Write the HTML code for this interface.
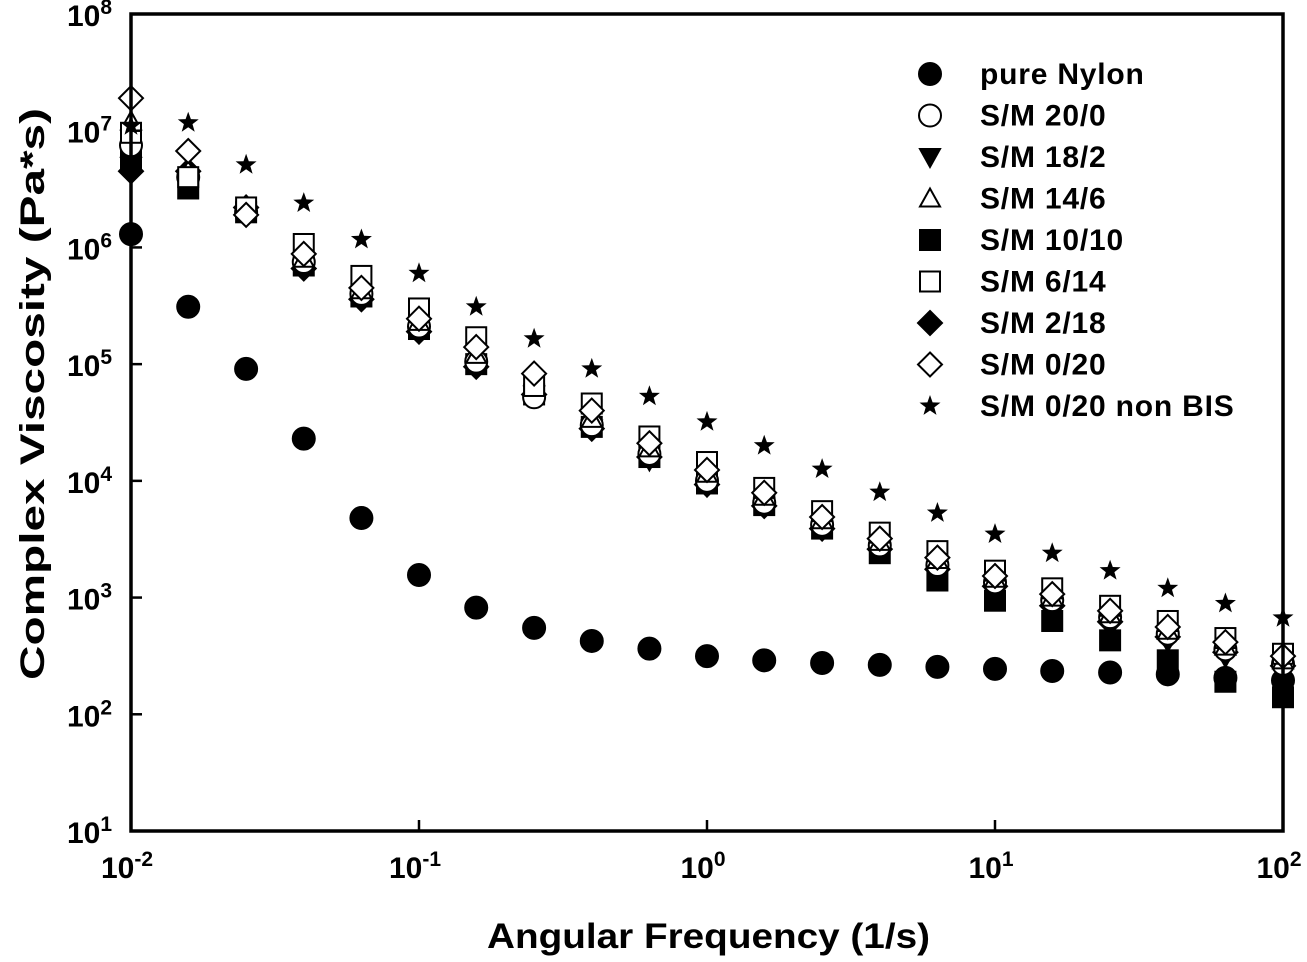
<!DOCTYPE html>
<html><head><meta charset="utf-8"><style>
html,body{margin:0;padding:0;background:#fff;}
svg text{font-family:"Liberation Sans",Arial,sans-serif;font-weight:bold;fill:#000;}
</style></head><body>
<svg id="chart" width="1307" height="957" viewBox="0 0 1307 957" xmlns="http://www.w3.org/2000/svg">
<g id="plot"></g>
<g id="axes"></g>
<g id="legend"></g>
<text x="487" y="948" font-size="35" textLength="443" lengthAdjust="spacingAndGlyphs">Angular Frequency (1/s)</text>
<text transform="translate(44,680) rotate(-90)" font-size="34" textLength="572" lengthAdjust="spacingAndGlyphs">Complex Viscosity (Pa*s)</text>
</svg>
<script>
const freqs=[0.01,0.0158,0.0251,0.0398,0.0631,0.1,0.158,0.251,0.398,0.631,1,1.58,2.51,3.98,6.31,10,15.8,25.1,39.8,63.1,100];
const nylon=[1.3e6,3.1e5,9.1e4,2.3e4,4.8e3,1.56e3,820,550,425,365,315,290,275,265,255,245,235,228,220,205,195];
const sm20_0=[7.5e6,4e6,2e6,7.5e5,4e5,2.1e5,1.05e5,5.2e4,3e4,1.7e4,1e4,6.5e3,4.2e3,2.8e3,1.9e3,1.35e3,950,680,490,360,270];
const sm18_2=[5e6,3.6e6,1.9e6,6.6e5,3.6e5,1.85e5,9.5e4,5.5e4,2.8e4,1.5e4,9e3,6e3,3.8e3,2.5e3,1.7e3,1.2e3,820,580,420,310,230];
const sm14_6=[1.2e7,4.5e6,2.2e6,8e5,4.3e5,2.3e5,1.2e5,6.5e4,3.4e4,1.9e4,1.15e4,7.3e3,4.6e3,3e3,2.1e3,1.45e3,1e3,720,520,380,290];
const sm10_10=[5.8e6,3.2e6,2e6,7e5,3.8e5,2e5,1e5,5.5e4,2.9e4,1.6e4,9.5e3,6.2e3,3.9e3,2.4e3,1.4e3,940,630,430,290,190,140];
const sm6_14=[9.6e6,4e6,2.2e6,1.07e6,5.7e5,3e5,1.7e5,6.5e4,4.6e4,2.4e4,1.45e4,8.7e3,5.5e3,3.6e3,2.5e3,1.7e3,1.2e3,850,630,450,330];
const sm2_18=[4.5e6,4.5e6,2.2e6,6.6e5,3.6e5,1.9e5,9.5e4,5.5e4,2.8e4,1.6e4,9.3e3,6.1e3,3.9e3,2.6e3,1.75e3,1.25e3,850,620,460,340,260];
const sm0_20=[1.9e7,6.7e6,1.9e6,8.8e5,4.5e5,2.45e5,1.4e5,8.3e4,4e4,2.1e4,1.24e4,7.9e3,4.9e3,3.2e3,2.2e3,1.53e3,1.07e3,770,560,415,315];
const sm0_20nb=[1.1e7,1.17e7,5.1e6,2.4e6,1.17e6,6e5,3.1e5,1.65e5,9.1e4,5.3e4,3.2e4,2e4,1.26e4,8e3,5.3e3,3.5e3,2.4e3,1.7e3,1.2e3,890,670];
const xTickExp=[-2,-1,0,1,2];
const yTickExp=[1,2,3,4,5,6,7,8];
const seriesNames=["pure Nylon","S/M 20/0","S/M 18/2","S/M 14/6","S/M 10/10","S/M 6/14","S/M 2/18","S/M 0/20","S/M 0/20 non BIS"];

const X0=131,X1=1283,Y0=831,Y1=14;
function xs(v){return X0+(Math.log10(v)+2)/4*(X1-X0);}
function ys(v){return Y0-(Math.log10(v)-1)/7*(Y0-Y1);}
const NS="http://www.w3.org/2000/svg";
function mk(tag,attrs,parent){const e=document.createElementNS(NS,tag);for(const k in attrs)e.setAttribute(k,attrs[k]);parent.appendChild(e);return e;}

function marker(type,x,y,parent){
  const r=10;let e;
  if(type==="fcircle"||type==="ocircle"){e=mk("circle",{cx:x,cy:y,r:r+1,fill:type==="fcircle"?"#000":"#fff",stroke:"#000","stroke-width":2},parent);}
  else if(type==="fsquare"||type==="osquare"){e=mk("rect",{x:x-r,y:y-r,width:2*r,height:2*r,fill:type==="fsquare"?"#000":"#fff",stroke:"#000","stroke-width":2},parent);}
  else if(type==="tdown"){e=mk("polygon",{points:`${x-r},${y-r*0.8} ${x+r},${y-r*0.8} ${x},${y+r*1.0}`,fill:"#000",stroke:"#000","stroke-width":2},parent);}
  else if(type==="tup"){e=mk("polygon",{points:`${x-r},${y+r*0.8} ${x+r},${y+r*0.8} ${x},${y-r*1.0}`,fill:"#fff",stroke:"#000","stroke-width":2},parent);}
  else if(type==="fdiamond"||type==="odiamond"){const d=r*1.2;e=mk("polygon",{points:`${x},${y-d} ${x+d},${y} ${x},${y+d} ${x-d},${y}`,fill:type==="fdiamond"?"#000":"#fff",stroke:"#000","stroke-width":2},parent);}
  else if(type==="star"){let p=[];for(let i=0;i<10;i++){const a=-Math.PI/2+i*Math.PI/5;const rr=i%2?4.5:11;p.push((x+rr*Math.cos(a)).toFixed(1)+","+(y+rr*Math.sin(a)).toFixed(1));}e=mk("polygon",{points:p.join(" "),fill:"#000"},parent);}
  return e;
}

const plot=document.getElementById("plot");
const allSeries=[[nylon,"fcircle"],[sm20_0,"ocircle"],[sm18_2,"tdown"],[sm14_6,"tup"],[sm10_10,"fsquare"],[sm6_14,"osquare"],[sm2_18,"fdiamond"],[sm0_20,"odiamond"],[sm0_20nb,"star"]];
const drawOrder=[0,4,2,6,1,3,5,7,8];
drawOrder.forEach(si=>{
  const [vals,type]=allSeries[si];
  const g=mk("g",{},plot);
  
  
  vals.forEach((v,i)=>{
    const m=marker(type,xs(freqs[i]),ys(v),g);
    
    
  });
});

const axes=document.getElementById("axes");
const frame=mk("rect",{x:X0,y:Y1,width:X1-X0,height:Y0-Y1,fill:"none",stroke:"#000","stroke-width":3.5},axes);


xTickExp.forEach(e=>{
  const x=xs(Math.pow(10,e));
  const t=mk("line",{x1:x,y1:Y0,x2:x,y2:Y0-11,stroke:"#000","stroke-width":2.5},axes);
  
  
  const tx=mk("text",{x:x-4,y:Y0+47,"text-anchor":"middle","font-size":30},axes);
  
  
  tx.innerHTML='10<tspan dy="-12" font-size="21">'+e+'</tspan>';
});
yTickExp.forEach(e=>{
  const y=ys(Math.pow(10,e));
  const t=mk("line",{x1:X0,y1:y,x2:X0+11,y2:y,stroke:"#000","stroke-width":2.5},axes);
  
  
  const tx=mk("text",{x:67,y:y+12,"font-size":30},axes);
  
  
  tx.innerHTML='10<tspan dy="-12" font-size="21">'+e+'</tspan>';
});

const legend=document.getElementById("legend");
seriesNames.forEach((n,i)=>{
  const y=74+i*41.5;
  const g=mk("g",{},legend);
  
  
  marker(allSeries[i][1],930,y,g);
  const t=mk("text",{x:980,y:y+10,"font-size":30,"letter-spacing":"0.8"},g);
  t.textContent=n;
});
</script>
</body></html>
